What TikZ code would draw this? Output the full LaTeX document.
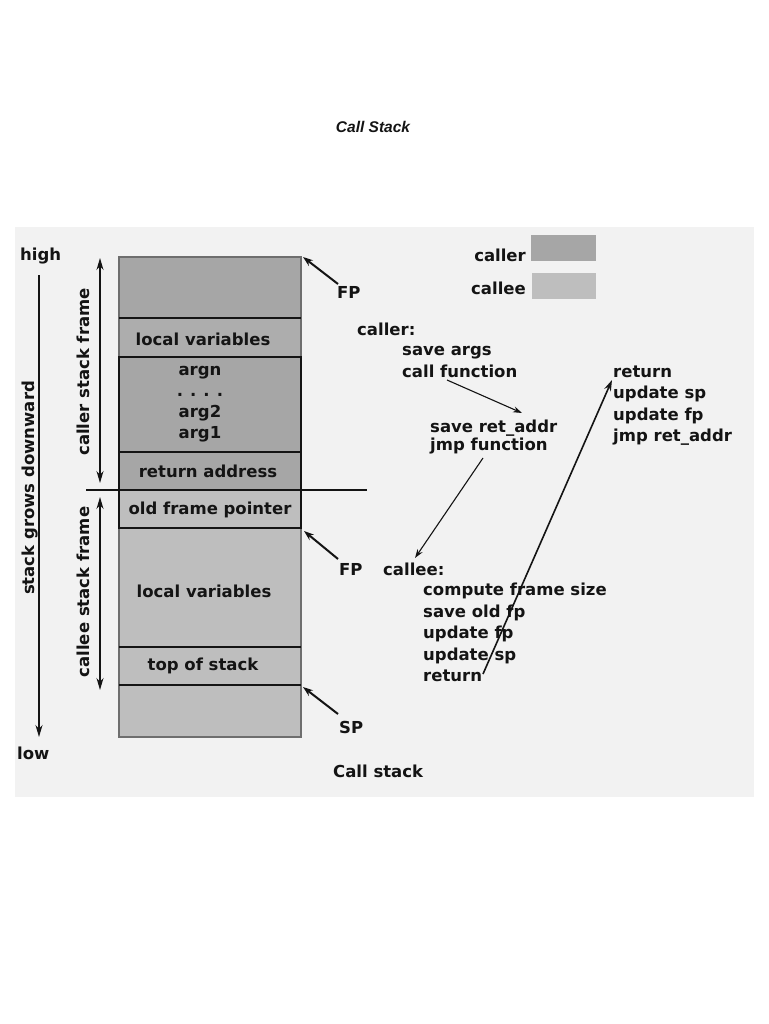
\documentclass[tikz,border=0pt]{standalone}
\usepackage{fontspec}
\setmainfont{DejaVu Sans}
\newfontfamily\titlefont{Liberation Sans}
\usetikzlibrary{arrows.meta}
\definecolor{bgc}{HTML}{F2F2F2}
\definecolor{callerc}{HTML}{A6A6A6}
\definecolor{calleec}{HTML}{BEBEBE}
\definecolor{tc}{HTML}{141414}
\definecolor{edgec}{HTML}{6E6E6E}
\begin{document}
\begin{tikzpicture}[x=1pt,y=-1pt,
  lbl/.style={font=\fontsize{16.5}{19}\selectfont\bfseries, text=tc, inner sep=0pt, anchor=base west},
  ctr/.style={font=\fontsize{16.5}{19}\selectfont\bfseries, text=tc, inner sep=0pt, anchor=base},
  rot/.style={font=\fontsize{16.5}{19}\selectfont\bfseries, text=tc, inner sep=0pt, rotate=90},
  divider/.style={draw=tc, line width=1.8pt},
  boxed/.style={draw=tc, line width=2.4pt},
  ptr/.style={draw=tc, line width=2pt, -{Stealth[length=10pt,width=7pt]}},
  flow/.style={draw=tc, line width=1.1pt, -{Stealth[length=9pt,width=6pt]}},
  bigflow/.style={draw=tc, line width=1.6pt, -{Stealth[length=11pt,width=7pt]}},
  vert/.style={draw=tc, line width=1.6pt, -{Stealth[length=12pt,width=7pt]}},
  dbl/.style={draw=tc, line width=1.4pt, {Stealth[length=12pt,width=7pt]}-{Stealth[length=12pt,width=7pt]}}
]
\useasboundingbox (0,0) rectangle (768,1024);
\fill[white] (0,0) rectangle (768,1024);
\fill[bgc] (15,227) rectangle (754,797);

% title
\node[font=\titlefont\fontsize{15.5}{18}\selectfont\bfseries\itshape, text=tc, inner sep=0pt, anchor=base] (title) at (373,133) {Call Stack};

% stack column fills
\fill[callerc] (119,257) rectangle (301,318);
\fill[callerc!92!white] (119,318) rectangle (301,357);
\fill[callerc] (119,357) rectangle (301,490);
\fill[calleec] (119,490) rectangle (301,737);
\draw[draw=edgec, line width=2.2pt] (119,257) rectangle (301,737);
\draw[divider] (119,318) -- (301,318);
\draw[divider] (119,647) -- (301,647);
\draw[divider] (119,685) -- (301,685);
\draw[boxed] (119,357) rectangle (301,452);
\draw[boxed] (119,452) rectangle (301,490);
\draw[boxed] (119,490) rectangle (301,528);

% block texts
\node[ctr] (lv1) at (203,345) {local variables};
\node[ctr, align=center, font=\fontsize{16.5}{21}\selectfont\bfseries, anchor=center] (args) at (200,404) {argn\\.\hspace{7pt}.\hspace{7pt}.\hspace{7pt}.\\arg2\\arg1};
\node[ctr] (ra) at (208,477) {return address};
\node[ctr] (ofp) at (210,514) {old frame pointer};
\node[ctr] (lv2) at (204,597) {local variables};
\node[ctr] (tos) at (203,670) {top of stack};

% frame separator
\coordinate (sepL) at (86,490);
\coordinate (sepR) at (367,490);
\draw[draw=tc, line width=2pt] (sepL) -- (sepR);

% left axis
\node[lbl] (high) at (20,260) {high};
\node[lbl] (low) at (17,759) {low};
\coordinate (axTop) at (39,275);
\coordinate (axBot) at (39,737);
\draw[vert] (axTop) -- (axBot);
\node[rot] (sgd) at (30,488) {stack grows downward};

% frame arrows
\coordinate (cfTop) at (100,258);
\coordinate (cfBot) at (100,483);
\coordinate (ceTop) at (100,497);
\coordinate (ceBot) at (100,690);
\draw[dbl] (cfTop) -- (cfBot);
\draw[dbl] (ceTop) -- (ceBot);
\node[rot] (csf) at (83,372) {caller stack frame};
\node[rot] (cesf) at (83,592) {callee stack frame};

% pointers
\node[lbl] (fp1) at (337,298) {FP};
\node[lbl] (fp2) at (339,575) {FP};
\node[lbl] (sp) at (339,733) {SP};
\coordinate (fp1tip) at (303,257);
\coordinate (fp2tip) at (304,531);
\coordinate (sptip) at (303,687);
\draw[ptr] (338,284) -- (fp1tip);
\draw[ptr] (338,559) -- (fp2tip);
\draw[ptr] (338,714) -- (sptip);
\node[lbl] (cs) at (333,777) {Call stack};

% legend
\node[lbl, anchor=base east] (lgcaller) at (526,261) {caller};
\node[lbl, anchor=base east] (lgcallee) at (526,294) {callee};
\fill[callerc] (531,235) rectangle (596,261);
\fill[calleec] (532,273) rectangle (596,299);

% caller steps
\node[lbl] (caller) at (357,335) {caller:};
\node[lbl] (sargs) at (402,355) {save args};
\node[lbl] (cfun) at (402,377) {call function};
\node[lbl] (sret) at (430,432) {save ret\_addr};
\node[lbl] (jfun) at (430,450) {jmp function};

% callee steps
\node[lbl] (callee) at (383,575) {callee:};
\node[lbl] (cfs) at (423,595) {compute frame size};
\node[lbl] (sofp) at (423,617) {save old fp};
\node[lbl] (ufp) at (423,638) {update fp};
\node[lbl] (usp) at (423,660) {update sp};
\node[lbl] (ret) at (423,681) {return};

% return steps
\node[lbl] (ret2) at (613,377) {return};
\node[lbl] (usp2) at (613,398) {update sp};
\node[lbl] (ufp2) at (613,420) {update fp};
\node[lbl] (jra) at (613,441) {jmp ret\_addr};

% flow arrows
\coordinate (f1s) at (447,380);
\coordinate (f1e) at (522,413);
\coordinate (f2s) at (483,458);
\coordinate (f2e) at (415,558);
\coordinate (f3s) at (483,674);
\coordinate (f3e) at (612,380);
\draw[flow] (f1s) -- (f1e);
\draw[flow] (f2s) -- (f2e);
\draw[bigflow] (f3s) -- (f3e);
\end{tikzpicture}
\end{document}
